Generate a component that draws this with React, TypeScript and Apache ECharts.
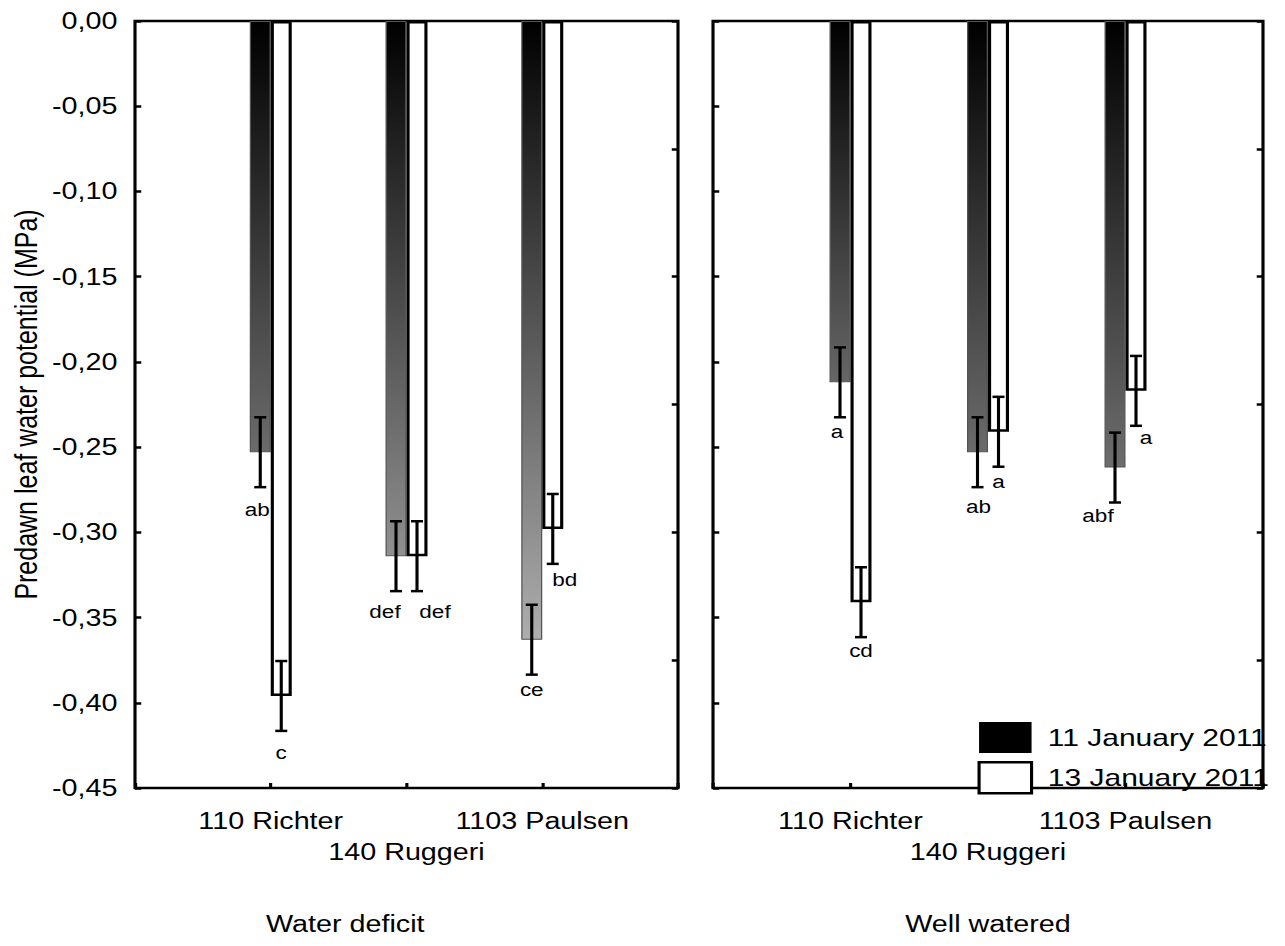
import React, { useEffect, useRef } from "react";
import * as echarts from "echarts";

// ---- data -----------------------------------------------------------
const categories = ["", "110 Richter", "140 Ruggeri", "1103 Paulsen", ""];
const dateNames = ["11 January 2011", "13 January 2011"];
const panelTitles = ["Water deficit", "Well watered"];
const yAxisTitle = "Predawn leaf water potential (MPa)";

// Water deficit: mean predawn leaf water potential (MPa) and standard error
const deficitJan11 = [-0.253, -0.314, -0.363];
const deficitJan13 = [-0.396, -0.314, -0.298];
const deficitSeJan11 = [0.0205, 0.0205, 0.0205];
const deficitSeJan13 = [0.0205, 0.0205, 0.0205];
const deficitLettersJan11 = ["ab", "def", "ce"];
const deficitLettersJan13 = ["c", "def", "bd"];

// Well watered
const wateredJan11 = [-0.212, -0.253, -0.262];
const wateredJan13 = [-0.341, -0.241, -0.217];
const wateredSeJan11 = [0.0205, 0.0205, 0.0205];
const wateredSeJan13 = [0.0205, 0.0205, 0.0205];
const wateredLettersJan11 = ["a", "ab", "abf"];
const wateredLettersJan13 = ["cd", "a", "a"];

// value axis range
const yMin = -0.45;
const yMax = 0;
const yStep = 0.05;

// ---- layout / style -------------------------------------------------
const STRETCH = 1.25; // horizontal stretch applied to the whole drawing
const CHART_W = 1028;
const CHART_H = 946;
const FONT = "'Liberation Sans', Arial, Helvetica, sans-serif";
const BAR_W = 16.8;
const CAP = 4.8;
const LINE_W = 2.5;

// letter offsets [dx, dy] from the lower end of each error bar
const deficitOffsetsJan11: [number, number][] = [[-2.4, 23], [-8.8, 21], [0, 15]];
const deficitOffsetsJan13: [number, number][] = [[0, 22], [14.4, 21], [9.6, 16]];
const wateredOffsetsJan11: [number, number][] = [[-2.4, 15], [0.8, 20], [-13.6, 13]];
const wateredOffsetsJan13: [number, number][] = [[0, 14], [0, 15], [8, 12]];

// end shade of the dark gradient bars, by bar depth
const shadeStops: [number, number][] = [[0.2, 100], [0.26, 108], [0.31, 142], [0.37, 178]];

function shadeFor(v: number): string {
  const d = Math.abs(v);
  let g = shadeStops[0][1];
  if (d >= shadeStops[shadeStops.length - 1][0]) g = shadeStops[shadeStops.length - 1][1];
  else {
    for (let i = 0; i < shadeStops.length - 1; i++) {
      const [d0, g0] = shadeStops[i];
      const [d1, g1] = shadeStops[i + 1];
      if (d >= d0 && d <= d1) {
        g = g0 + ((d - d0) / (d1 - d0)) * (g1 - g0);
        break;
      }
    }
  }
  const h = Math.round(g).toString(16).padStart(2, "0");
  return "#" + h + h + h;
}

function fmt(v: number): string {
  const x = Math.abs(v) < 1e-9 ? 0 : v;
  return x.toFixed(2).replace(".", ",");
}

function darkBars(gi: number, values: number[]) {
  return {
    type: "bar",
    name: dateNames[0],
    xAxisIndex: gi,
    yAxisIndex: gi * 2,
    barWidth: BAR_W,
    barGap: "0%",
    z: 2,
    data: ["-", ...values.map((v) => ({
      value: v,
      itemStyle: {
        color: new echarts.graphic.LinearGradient(0, 0, 0, 1, [
          { offset: 0, color: "#000000" },
          { offset: 1, color: shadeFor(v) },
        ]),
        borderColor: "#555",
        borderWidth: 1,
      },
    })), "-"],
  };
}

function whiteBars(gi: number, values: number[]) {
  return {
    type: "bar",
    name: dateNames[1],
    xAxisIndex: gi,
    yAxisIndex: gi * 2,
    barWidth: BAR_W,
    barGap: "0%",
    z: 2,
    itemStyle: { color: "#ffffff", borderColor: "#000000", borderWidth: LINE_W },
    data: ["-", ...values, "-"],
  };
}

function errorBars(
  gi: number,
  values: number[],
  errors: number[],
  letters: string[],
  offsets: [number, number][],
  side: number
) {
  return {
    type: "custom",
    name: "se-" + gi + "-" + side,
    xAxisIndex: gi,
    yAxisIndex: gi * 2,
    z: 5,
    silent: true,
    data: values.map((v, i) => [i + 1, v, errors[i]]),
    renderItem: (params: any, api: any) => {
      const c = api.value(0);
      const v = api.value(1);
      const e = api.value(2);
      const hi = api.coord([c, v + e]);
      const lo = api.coord([c, v - e]);
      const x = hi[0] + (side * BAR_W) / 2;
      const [dx, dy] = offsets[params.dataIndex];
      const stroke = { stroke: "#000", lineWidth: LINE_W };
      return {
        type: "group",
        children: [
          { type: "line", shape: { x1: x, y1: hi[1], x2: x, y2: lo[1] }, style: stroke },
          { type: "line", shape: { x1: x - CAP, y1: hi[1], x2: x + CAP, y2: hi[1] }, style: stroke },
          { type: "line", shape: { x1: x - CAP, y1: lo[1], x2: x + CAP, y2: lo[1] }, style: stroke },
          {
            type: "text",
            x: x + dx,
            y: lo[1] + dy,
            style: {
              text: letters[params.dataIndex],
              fontSize: 18,
              fontFamily: FONT,
              fill: "#000",
              align: "center",
              verticalAlign: "middle",
            },
          },
        ],
      };
    },
  };
}

const grids = [
  { left: 108, top: 21, width: 434.4, height: 767 },
  { left: 570.4, top: 21, width: 440, height: 767 },
];

function buildOption() {
  const xAxes = grids.map((_, gi) => ({
    type: "category",
    gridIndex: gi,
    data: categories,
    boundaryGap: false,
    axisLine: { show: false, onZero: false },
    axisTick: {
      show: true,
      inside: true,
      length: 5,
      interval: 0,
      lineStyle: { color: "#000", width: LINE_W },
    },
    axisLabel: {
      interval: 0,
      margin: 17.5,
      fontSize: 23,
      lineHeight: 31,
      color: "#000",
      fontFamily: FONT,
      formatter: (val: string, idx: number) => (idx === 2 ? "\n" + val : val),
    },
    splitLine: { show: false },
    name: panelTitles[gi],
    nameLocation: "middle",
    nameGap: 125,
    nameTextStyle: {
      fontSize: 23,
      color: "#000",
      fontFamily: FONT,
      padding: gi === 0 ? [0, 98, 0, 0] : [0, 0, 0, 0],
    },
  }));

  const yAxes: any[] = [];
  grids.forEach((_, gi) => {
    yAxes.push({
      type: "value",
      gridIndex: gi,
      min: yMin,
      max: yMax,
      interval: yStep,
      axisLine: { show: false },
      axisTick: { show: true, inside: true, length: 5, lineStyle: { color: "#000", width: LINE_W } },
      axisLabel: {
        show: gi === 0,
        margin: 14,
        fontSize: 23,
        color: "#000",
        fontFamily: FONT,
        formatter: fmt,
      },
      splitLine: { show: false },
      name: gi === 0 ? yAxisTitle : "",
      nameLocation: "middle",
      nameRotate: 90,
      nameGap: 75,
      nameTextStyle: { fontSize: 25, color: "#000", fontFamily: FONT },
    });
    // secondary scale ticks on the right frame
    yAxes.push({
      type: "value",
      gridIndex: gi,
      position: "right",
      min: 0,
      max: 6,
      interval: 1,
      axisLine: { show: false },
      axisTick: { show: true, inside: true, length: 5, lineStyle: { color: "#000", width: LINE_W } },
      axisLabel: { show: false },
      splitLine: { show: false },
    });
  });

  return {
    animation: false,
    backgroundColor: "#ffffff",
    textStyle: { fontFamily: FONT },
    grid: grids.map((g) => ({
      ...g,
      show: true,
      borderColor: "#000",
      borderWidth: LINE_W,
      backgroundColor: "transparent",
      containLabel: false,
    })),
    xAxis: xAxes,
    yAxis: yAxes,
    legend: {
      show: true,
      orient: "vertical",
      left: 782,
      top: 722,
      padding: 0,
      itemWidth: 42,
      itemHeight: 31,
      itemGap: 8,
      icon: "rect",
      selectedMode: false,
      textStyle: { fontSize: 24, color: "#000", fontFamily: FONT, padding: [0, 0, 0, 8] },
      data: [
        { name: dateNames[0], itemStyle: { color: "#000000", borderWidth: 0 } },
        { name: dateNames[1], itemStyle: { color: "#ffffff", borderColor: "#000000", borderWidth: LINE_W } },
      ],
    },
    series: [
      darkBars(0, deficitJan11),
      whiteBars(0, deficitJan13),
      darkBars(1, wateredJan11),
      whiteBars(1, wateredJan13),
      errorBars(0, deficitJan11, deficitSeJan11, deficitLettersJan11, deficitOffsetsJan11, -1),
      errorBars(0, deficitJan13, deficitSeJan13, deficitLettersJan13, deficitOffsetsJan13, 1),
      errorBars(1, wateredJan11, wateredSeJan11, wateredLettersJan11, wateredOffsetsJan11, -1),
      errorBars(1, wateredJan13, wateredSeJan13, wateredLettersJan13, wateredOffsetsJan13, 1),
    ],
  };
}

export default function App() {
  const ref = useRef<HTMLDivElement>(null);

  useEffect(() => {
    if (!ref.current) return;
    const chart = echarts.init(ref.current, null, { renderer: "svg" });
    chart.setOption(buildOption() as any);
    return () => chart.dispose();
  }, []);

  return (
    <div
      style={{
        position: "absolute",
        left: 0,
        top: 0,
        width: 1285,
        height: CHART_H,
        overflow: "hidden",
        background: "#fff",
      }}
    >
      <div
        ref={ref}
        style={{
          width: CHART_W,
          height: CHART_H,
          transform: `scaleX(${STRETCH})`,
          transformOrigin: "0 0",
        }}
      />
    </div>
  );
}
